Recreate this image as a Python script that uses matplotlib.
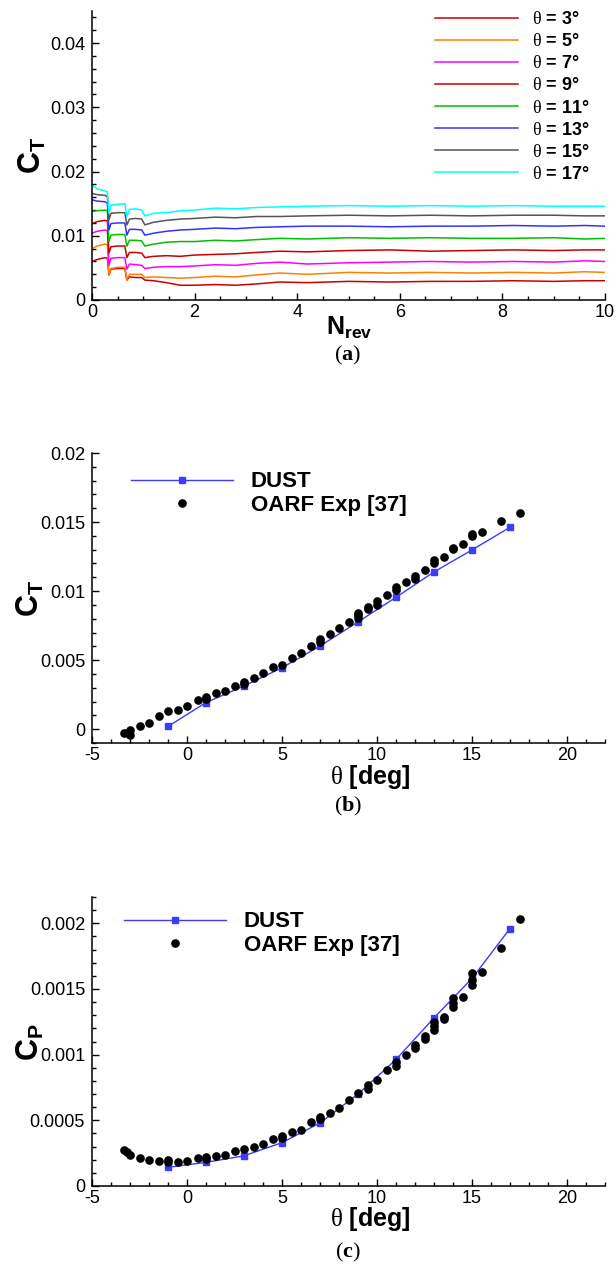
import matplotlib
matplotlib.use("Agg")
import matplotlib.pyplot as plt
from matplotlib.ticker import MultipleLocator, FuncFormatter

plt.rcParams['font.family'] = ['Liberation Sans', 'DejaVu Sans']
plt.rcParams['axes.unicode_minus'] = False
plt.rcParams['mathtext.fontset'] = 'custom'
plt.rcParams['mathtext.rm'] = 'Liberation Serif'
plt.rcParams['mathtext.it'] = 'Liberation Serif'
plt.rcParams['mathtext.bf'] = 'Liberation Sans:bold'
plt.rcParams['mathtext.sf'] = 'Liberation Serif:bold'

# ---- (a) thrust coefficient history ----
n_rev = [0.0, 0.1, 0.25, 0.3, 0.33, 0.37, 0.5, 0.64, 0.68, 0.73, 0.85, 0.97, 1.03,
         1.2, 1.45, 1.72, 2.0, 2.4, 2.8, 3.2, 3.66, 4.2, 5.0, 5.8, 6.6, 7.4, 8.2,
         9.0, 9.6, 10.0]
ct_3 = [0.0060, 0.0063, 0.0066, 0.0065, 0.0039, 0.0048, 0.0049, 0.0049, 0.0031, 0.0036,
        0.0035, 0.0035, 0.0031, 0.0030, 0.0027, 0.0023, 0.0023, 0.0024, 0.0023, 0.0025,
        0.0028, 0.0027, 0.0029, 0.0028, 0.0029, 0.0029, 0.0030, 0.0029, 0.0030, 0.0030]
ct_5 = [0.0080, 0.0084, 0.0087, 0.0086, 0.0040, 0.0049, 0.0051, 0.0051, 0.0032, 0.0040,
        0.0040, 0.0040, 0.0035, 0.0036, 0.0035, 0.0034, 0.0035, 0.0037, 0.0036, 0.0039,
        0.0042, 0.0040, 0.0043, 0.0042, 0.0043, 0.0042, 0.0043, 0.0042, 0.0044, 0.0043]
ct_7 = [0.0104, 0.0107, 0.0109, 0.0108, 0.0054, 0.0065, 0.0066, 0.0066, 0.0048, 0.0056,
        0.0055, 0.0054, 0.0049, 0.0051, 0.0052, 0.0052, 0.0053, 0.0055, 0.0054, 0.0057,
        0.0059, 0.0056, 0.0058, 0.0059, 0.0060, 0.0059, 0.0060, 0.0059, 0.0061, 0.0060]
ct_9 = [0.0119, 0.0122, 0.0124, 0.0123, 0.0073, 0.0083, 0.0084, 0.0084, 0.0066, 0.0074,
        0.0074, 0.0073, 0.0066, 0.0068, 0.0069, 0.0068, 0.0070, 0.0071, 0.0072, 0.0074,
        0.0076, 0.0075, 0.0077, 0.0078, 0.0076, 0.0077, 0.0078, 0.0077, 0.0078, 0.0078]
ct_11 = [0.0138, 0.0139, 0.0140, 0.0139, 0.0091, 0.0101, 0.0102, 0.0102, 0.0084, 0.0093,
         0.0093, 0.0092, 0.0084, 0.0087, 0.0090, 0.0091, 0.0091, 0.0093, 0.0092, 0.0094,
         0.0096, 0.0095, 0.0097, 0.0096, 0.0097, 0.0096, 0.0096, 0.0097, 0.0095, 0.0096]
ct_13 = [0.0156, 0.0154, 0.0153, 0.0151, 0.0109, 0.0119, 0.0120, 0.0120, 0.0101, 0.0110,
         0.0110, 0.0109, 0.0101, 0.0104, 0.0107, 0.0109, 0.0110, 0.0112, 0.0111, 0.0113,
         0.0114, 0.0115, 0.0115, 0.0114, 0.0115, 0.0115, 0.0116, 0.0115, 0.0116, 0.0115]
ct_15 = [0.0166, 0.0164, 0.0163, 0.0161, 0.0125, 0.0135, 0.0136, 0.0136, 0.0117, 0.0126,
         0.0127, 0.0126, 0.0117, 0.0121, 0.0124, 0.0126, 0.0127, 0.0129, 0.0128, 0.0130,
         0.0130, 0.0131, 0.0132, 0.0131, 0.0132, 0.0131, 0.0132, 0.0132, 0.0131, 0.0131]
ct_17 = [0.0179, 0.0173, 0.0170, 0.0168, 0.0135, 0.0148, 0.0149, 0.0150, 0.0130, 0.0141,
         0.0142, 0.0140, 0.0131, 0.0135, 0.0136, 0.0139, 0.0140, 0.0143, 0.0142, 0.0144,
         0.0145, 0.0146, 0.0147, 0.0146, 0.0147, 0.0146, 0.0147, 0.0146, 0.0146, 0.0146]
pitch_labels = ['3', '5', '7', '9', '11', '13', '15', '17']
history = [ct_3, ct_5, ct_7, ct_9, ct_11, ct_13, ct_15, ct_17]
colors = ['#cc0000', '#ff8000', '#ff00ff', '#cc0000', '#00c000', '#3333ff', '#555555', '#00ffff']

# ---- (b), (c) DUST vs experiment ----
theta_dust = [-1, 1, 3, 5, 7, 9, 11, 13, 15, 17]
ct_dust = [0.0002, 0.00193, 0.00313, 0.00445, 0.00602, 0.00777, 0.00955, 0.01139, 0.01298, 0.01462]
cp_dust = [0.000142, 0.00018, 0.00023, 0.00033, 0.00048, 0.0007, 0.000963, 0.00128, 0.00158, 0.00196]

theta_exp_ct = [-3.3, -3.1, -3.0, -3.0, -2.5, -2.0, -1.5, -1.0, -0.5, 0.0, 0.6, 1.0, 1.0, 1.5,
                2.0, 2.5, 3.0, 3.0, 3.5, 4.0, 4.5, 5.0, 5.5, 6.0, 6.5, 7.0, 7.0, 7.5, 8.0,
                8.5, 9.0, 9.0, 9.0, 9.5, 9.5, 10.0, 10.0, 10.5, 11.0, 11.0, 11.5, 12.0, 12.0,
                12.5, 13.0, 13.0, 13.5, 14.0, 14.0, 14.5, 15.0, 15.0, 15.5, 16.5, 17.5]
ct_exp = [-0.00024, -0.0003, -0.0004, -0.00005, 0.0002, 0.00048, 0.00096, 0.0013, 0.0014,
          0.00168, 0.0021, 0.00217, 0.00233, 0.0026, 0.00274, 0.0031, 0.00327, 0.00342,
          0.00373, 0.00404, 0.00448, 0.00467, 0.00518, 0.00551, 0.00602, 0.00635, 0.0065,
          0.00688, 0.00734, 0.00777, 0.00806, 0.0083, 0.00842, 0.00871, 0.00886, 0.00902,
          0.00926, 0.0097, 0.0101, 0.0103, 0.01064, 0.0109, 0.0111, 0.01155, 0.01203,
          0.01227, 0.0125, 0.01304, 0.0131, 0.01343, 0.01396, 0.01413, 0.01427, 0.01504, 0.01569]

theta_exp_cp = [-3.3, -3.15, -3.0, -2.5, -2.0, -1.5, -1.0, -1.0, -0.5, 0.0, 0.6, 1.0, 1.0, 1.5,
                2.0, 2.5, 3.0, 3.5, 4.0, 4.5, 5.0, 5.0, 5.5, 6.0, 6.5, 7.0, 7.0, 7.5, 8.0,
                8.5, 9.0, 9.5, 9.5, 10.0, 10.5, 11.0, 11.0, 11.5, 12.0, 12.0, 12.5, 12.5,
                13.0, 13.0, 13.0, 13.5, 13.5, 14.0, 14.0, 14.0, 14.5, 15.0, 15.0, 15.0,
                15.5, 16.5, 17.5]
cp_exp = [0.000274, 0.000258, 0.000238, 0.000213, 0.000198, 0.00019, 0.000198, 0.00018,
          0.000185, 0.000193, 0.000213, 0.000223, 0.000207, 0.000228, 0.000236, 0.000268,
          0.000281, 0.000299, 0.000317, 0.000355, 0.00038, 0.000362, 0.000408, 0.00043,
          0.000484, 0.000527, 0.000509, 0.000557, 0.00059, 0.000653, 0.000709, 0.000767,
          0.000742, 0.00081, 0.00088, 0.000945, 0.000914, 0.001, 0.00107, 0.00105, 0.00114,
          0.00112, 0.00125, 0.00122, 0.00119, 0.00129, 0.00127, 0.00143, 0.00139, 0.00136,
          0.00144, 0.00162, 0.00157, 0.00153, 0.00163, 0.00181, 0.00203]

W, H = 616, 1264
fig = plt.figure(figsize=(W / 100, H / 100), dpi=100)


def box(left, top, right, bottom):
    # pixel box -> figure fraction
    return [left / W, 1 - bottom / H, (right - left) / W, (bottom - top) / H]


def style(ax):
    for s in ['top', 'right']:
        ax.spines[s].set_visible(False)
    for s in ['left', 'bottom']:
        ax.spines[s].set_linewidth(1.1)
    ax.tick_params(which='both', direction='in', top=False, right=False, width=1)
    ax.tick_params(which='major', length=5, labelsize=13)
    ax.tick_params(which='minor', length=3)
    ax.tick_params(axis='y', pad=5)
    ax.tick_params(axis='x', pad=3)
    fmt = FuncFormatter(lambda v, p: '%g' % round(v, 6))
    ax.xaxis.set_major_formatter(fmt)
    ax.yaxis.set_major_formatter(fmt)


def ftext(x, y, s, **kw):
    fig.text(x / W, 1 - y / H, s, ha='center', va='center', **kw)


# (a)
ax1 = fig.add_axes(box(92, 11, 605, 300))
for vals, c, lab in zip(history, colors, pitch_labels):
    ax1.plot(n_rev, vals, color=c, lw=1.1, label=r'$\theta$ = ' + lab + '°')
ax1.set_xlim(0, 10)
ax1.set_ylim(0, 0.045)
ax1.xaxis.set_major_locator(MultipleLocator(2))
ax1.xaxis.set_minor_locator(MultipleLocator(0.5))
ax1.yaxis.set_major_locator(MultipleLocator(0.01))
ax1.yaxis.set_minor_locator(MultipleLocator(0.002))
style(ax1)
ax1.legend(loc='center left', bbox_to_anchor=(435 / W, 1 - 97 / H),
           bbox_transform=fig.transFigure, frameon=False, borderpad=0, borderaxespad=0,
           handlelength=4.6, handletextpad=0.8, labelspacing=0.28,
           prop={'weight': 'bold', 'size': 13})
ftext(32, 155, r'$\mathbf{C_T}$', fontsize=22, rotation=90)
ftext(349, 328, r'$\mathbf{N_{rev}}$', fontsize=18)
ftext(348, 355, r'($\mathsf{a}$)', fontsize=16, family='Liberation Serif')

# (b)
ax2 = fig.add_axes(box(92, 453, 605, 743))
ax2.plot(theta_dust, ct_dust, color='#3c3cff', lw=1.0, marker='s', ms=4, label='DUST')
ax2.plot(theta_exp_ct, ct_exp, 'o', color='black', ms=5.2, ls='none', label='OARF Exp [37]')
ax2.set_xlim(-5, 22)
ax2.set_ylim(-0.001, 0.02)
ax2.xaxis.set_major_locator(MultipleLocator(5))
ax2.xaxis.set_minor_locator(MultipleLocator(1))
ax2.yaxis.set_major_locator(MultipleLocator(0.005))
ax2.yaxis.set_minor_locator(MultipleLocator(0.001))
style(ax2)
ax2.legend(loc='center left', bbox_to_anchor=(131 / W, 1 - 493.5 / H),
           bbox_transform=fig.transFigure, frameon=False, borderpad=0, borderaxespad=0,
           handlelength=4.6, handletextpad=0.8, labelspacing=0.1,
           prop={'weight': 'bold', 'size': 16})
ftext(30, 598, r'$\mathbf{C_T}$', fontsize=22, rotation=90)
ftext(370, 777, r'$\theta$ [deg]', fontsize=18, weight='bold')
ftext(348, 806, r'($\mathsf{b}$)', fontsize=16, family='Liberation Serif')

# (c)
ax3 = fig.add_axes(box(92, 897, 605, 1186))
ax3.plot(theta_dust, cp_dust, color='#3c3cff', lw=1.0, marker='s', ms=4, label='DUST')
ax3.plot(theta_exp_cp, cp_exp, 'o', color='black', ms=5.2, ls='none', label='OARF Exp [37]')
ax3.set_xlim(-5, 22)
ax3.set_ylim(0, 0.0022)
ax3.xaxis.set_major_locator(MultipleLocator(5))
ax3.xaxis.set_minor_locator(MultipleLocator(1))
ax3.yaxis.set_major_locator(MultipleLocator(0.0005))
ax3.yaxis.set_minor_locator(MultipleLocator(0.0001))
style(ax3)
ax3.legend(loc='center left', bbox_to_anchor=(123.5 / W, 1 - 933.5 / H),
           bbox_transform=fig.transFigure, frameon=False, borderpad=0, borderaxespad=0,
           handlelength=4.6, handletextpad=0.8, labelspacing=0.1,
           prop={'weight': 'bold', 'size': 16})
ftext(30, 1042, r'$\mathbf{C_P}$', fontsize=22, rotation=90)
ftext(370, 1219, r'$\theta$ [deg]', fontsize=18, weight='bold')
ftext(348, 1252, r'($\mathsf{c}$)', fontsize=16, family='Liberation Serif')

fig.savefig('out.png', dpi=100)
